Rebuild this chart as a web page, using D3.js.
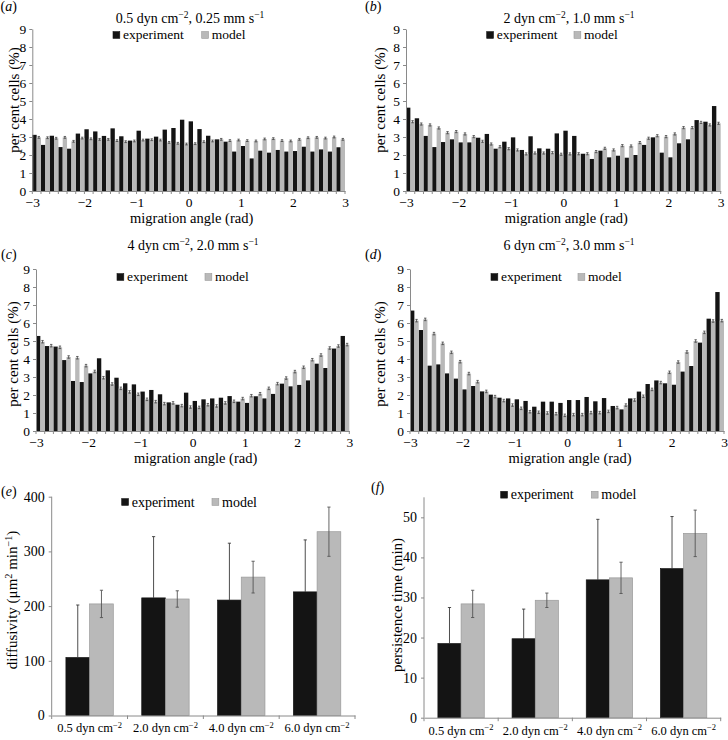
<!DOCTYPE html>
<html><head><meta charset="utf-8">
<script src="https://cdn.jsdelivr.net/npm/d3@7"></script>
<style>
body{margin:0;background:#fff;}
svg text{font-family:"Liberation Serif","Times New Roman",serif;fill:#000;}
</style></head><body>
<svg id="chart" width="728" height="740"></svg>
<script>
// ---------- DATA ----------
const angleTicks = [-3, -2, -1, 0, 1, 2, 3];
const pctTicks = [0, 1, 2, 3, 4, 5, 6, 7, 8, 9];
const seriesNames = ["experiment", "model"];

// (a) 0.5 dyn cm-2
const expA = [3.12, 2.56, 3.07, 2.44, 2.35, 3.19, 3.43, 3.31, 3.06, 3.48, 3.04, 2.8, 3.35, 2.91, 3.02, 3.41, 3.5, 3.96,
              3.87, 3.44, 3.07, 2.87, 2.74, 2.19, 2.5, 1.81, 2.24, 2.13, 2.28, 2.19, 2.22, 2.46, 2.19, 2.31, 2.19, 2.43];
const modelA = [2.98, 2.96, 2.93, 2.98, 2.76, 2.94, 2.9, 2.87, 2.87, 2.8, 2.74, 2.78, 2.83, 2.85, 2.83, 2.7, 2.65, 2.61,
                2.63, 2.74, 2.78, 2.87, 2.8, 2.83, 2.8, 2.78, 2.89, 2.91, 2.8, 2.78, 2.87, 2.96, 2.98, 2.94, 3.0, 2.87];
// (b) 2 dyn cm-2
const expB = [4.63, 4.04, 3.06, 2.44, 2.72, 2.87, 2.7, 2.7, 2.96, 3.17, 2.35, 2.74, 2.98, 2.28, 3.04, 2.37, 2.35, 3.2,
              3.35, 3.06, 2.07, 1.78, 2.24, 1.87, 1.96, 1.85, 2.0, 2.56, 2.98, 2.13, 1.87, 2.65, 2.87, 3.94, 3.85, 4.72];
const modelB = [3.85, 3.72, 3.67, 3.5, 3.24, 3.3, 3.17, 3.02, 2.76, 2.61, 2.46, 2.35, 2.28, 2.06, 2.11, 2.11, 2.13, 2.04,
                2.06, 2.07, 2.07, 2.19, 2.37, 2.28, 2.52, 2.5, 2.69, 2.93, 3.07, 3.02, 3.17, 3.52, 3.52, 3.81, 3.67, 3.76];
// (c) 4 dyn cm-2
const expC = [5.28, 4.72, 4.69, 3.94, 2.78, 2.72, 3.2, 4.04, 3.37, 2.96, 2.65, 2.59, 2.19, 2.28, 2.04, 1.59, 1.46, 2.13,
              1.67, 1.76, 1.81, 1.85, 1.94, 1.63, 1.56, 1.93, 1.81, 2.06, 2.63, 2.48, 2.56, 2.81, 3.74, 3.5, 4.58, 5.28];
const modelC = [4.96, 4.74, 4.65, 4.11, 4.07, 3.63, 3.31, 2.96, 2.61, 2.37, 2.17, 2.04, 1.76, 1.63, 1.52, 1.56, 1.41, 1.33,
                1.31, 1.46, 1.39, 1.56, 1.65, 1.8, 1.96, 2.07, 2.37, 2.63, 2.94, 3.3, 3.54, 3.96, 4.22, 4.61, 4.72, 4.8];
// (d) 6 dyn cm-2
const expD = [6.69, 5.61, 3.63, 3.7, 3.2, 2.91, 2.31, 2.5, 2.2, 2.02, 1.85, 1.81, 1.76, 1.67, 1.35, 1.63, 1.63, 1.56,
              1.72, 1.72, 1.89, 1.65, 1.83, 1.39, 1.2, 1.81, 2.19, 2.61, 2.81, 2.65, 2.57, 3.3, 3.61, 4.91, 6.24, 7.72];
const modelD = [6.13, 6.2, 5.41, 4.87, 4.37, 3.85, 3.19, 2.74, 2.2, 1.91, 1.69, 1.44, 1.26, 1.07, 1.04, 1.0, 0.96, 0.87,
                0.91, 0.91, 1.02, 1.02, 1.09, 1.3, 1.44, 1.72, 1.93, 2.31, 2.69, 3.26, 3.83, 4.39, 5.0, 5.48, 6.11, 6.13];
const histModelErr = [0.05, 0.06, 0.07, 0.07];

// (e), (f)
const shearCats = ["0.5 dyn cm", "2.0 dyn cm", "4.0 dyn cm", "6.0 dyn cm"];
const diffTicks = [0, 100, 200, 300, 400];
const diffExp = [106, 215, 211, 226];
const diffExpErr = [96, 112, 104, 95];
const diffModel = [204, 213, 253, 336];
const diffModelErr = [25, 15, 29, 45];
const persTicks = [0, 10, 20, 30, 40, 50];
const persExp = [18.5, 19.7, 34.4, 37.2];
const persExpErr = [9.0, 7.4, 15.1, 13.0];
const persModel = [28.4, 29.3, 34.9, 46.0];
const persModelErr = [3.4, 1.8, 3.9, 5.8];

// ---------- STYLE ----------
const BLACK = "#141414", GREY = "#b9b9b9", AXIS = "#8a8a8a", ERR = "#444";
const svg = d3.select("#chart");

function rich(sel, parts, size) {
  let up = false;
  parts.forEach(p => {
    if (typeof p === "string") {
      const t = sel.append("tspan").text(p);
      if (up) { t.attr("dy", size * 0.38); up = false; }
    } else {
      sel.append("tspan").attr("font-size", size * 0.68).attr("dy", -size * 0.38).text(p.sup);
      up = true;
    }
  });
  return sel;
}
function panelLabel(x, y, letter) {
  const t = svg.append("text").attr("x", x).attr("y", y).attr("font-size", 14);
  t.append("tspan").text("(");
  t.append("tspan").attr("font-style", "italic").text(letter);
  t.append("tspan").text(")");
}
function styleAxis(g, size) {
  g.attr("font-size", size).attr("font-family", null);
  g.select(".domain").attr("stroke", AXIS);
  g.selectAll(".tick line").attr("stroke", AXIS);
  g.selectAll(".tick text").attr("fill", "#000");
}
function legend(y, bx, gx, size, sq) {
  [[bx, BLACK, seriesNames[0]], [gx, GREY, seriesNames[1]]].forEach(([x, c, name]) => {
    svg.append("rect").attr("x", x).attr("y", y - sq / 2).attr("width", sq).attr("height", sq)
      .attr("fill", c).attr("stroke", c === GREY ? "#999" : c).attr("stroke-width", 0.6);
    svg.append("text").attr("x", x + 10).attr("y", y + size * 0.33).attr("font-size", size).text(name);
  });
}

function hist(o) {
  const x = d3.scaleLinear().domain([-3, 3]).range([o.x0, o.x1]);
  const y = d3.scaleLinear().domain([0, 9]).range([o.yb, o.yt]);
  const bins = d3.scaleBand().domain(d3.range(o.exp.length)).range([o.x0, o.x1]);
  const sub = d3.scaleBand().domain(seriesNames).range([0, bins.bandwidth()]);
  const g = svg.append("g");
  g.selectAll("rect.e").data(o.exp).join("rect").attr("class", "e")
    .attr("x", (d, i) => bins(i) + sub("experiment")).attr("width", sub.bandwidth())
    .attr("y", d => y(d)).attr("height", d => y(0) - y(d)).attr("fill", BLACK);
  g.selectAll("rect.m").data(o.model).join("rect").attr("class", "m")
    .attr("x", (d, i) => bins(i) + sub("model")).attr("width", sub.bandwidth())
    .attr("y", d => y(d)).attr("height", d => y(0) - y(d)).attr("fill", GREY);
  const cx = i => bins(i) + sub("model") + sub.bandwidth() / 2;
  const eg = g.append("g").attr("stroke", ERR).attr("stroke-width", 0.8);
  o.model.forEach((v, i) => {
    eg.append("line").attr("x1", cx(i)).attr("x2", cx(i)).attr("y1", y(v - o.err)).attr("y2", y(v + o.err));
    [v - o.err, v + o.err].forEach(w => eg.append("line").attr("x1", cx(i) - 1.2).attr("x2", cx(i) + 1.2).attr("y1", y(w)).attr("y2", y(w)));
  });
  // axes
  const ya = svg.append("g").attr("transform", `translate(${o.x0},0)`)
    .call(d3.axisLeft(y).tickValues(pctTicks).tickSize(3).tickSizeOuter(0).tickPadding(3).tickFormat(d3.format("d")));
  styleAxis(ya, 13.5);
  const xm = svg.append("g").attr("transform", `translate(0,${o.yb})`)
    .call(d3.axisBottom(bins.copy().range([o.x0, o.x1])).tickValues([]).tickSizeOuter(0));
  xm.select(".domain").attr("stroke", AXIS);
  // minor ticks at bin edges
  const edges = bins.domain().map(i => bins(i)).concat([o.x1]);
  xm.selectAll("line.mt").data(edges).join("line").attr("class", "mt")
    .attr("x1", d => d).attr("x2", d => d).attr("y1", 0).attr("y2", 3).attr("stroke", AXIS);
  const xl = svg.append("g").attr("transform", `translate(0,${o.yb})`)
    .call(d3.axisBottom(x).tickValues(angleTicks).tickSize(0).tickPadding(6.5).tickFormat(d3.format("d")));
  styleAxis(xl, 13.5);
  xl.select(".domain").remove();
  // titles
  svg.append("text").attr("x", (o.x0 + o.x1) / 2 + 3).attr("y", o.yb + 32).attr("text-anchor", "middle")
    .attr("font-size", 14.5).text("migration angle (rad)");
  svg.append("text").attr("transform", `translate(${o.ylx},${o.yly}) rotate(-90)`).attr("text-anchor", "middle")
    .attr("dy", "0.33em").attr("font-size", 15).text("per cent cells (%)");
  rich(svg.append("text").attr("x", o.tx).attr("y", o.ty).attr("text-anchor", "middle").attr("font-size", 14), o.title, 14);
  legend(o.ly, o.lbx, o.lgx, 13.5, 6.8);
  panelLabel(o.px, o.py, o.letter);
}

hist({exp: expA, model: modelA, err: histModelErr[0], x0: 32.3, x1: 345, yt: 29, yb: 191,
  title: ["0.5 dyn cm", {sup: "−2"}, ", 0.25 mm s", {sup: "−1"}], tx: 190, ty: 23,
  ly: 35, lbx: 113, lgx: 201.7, ylx: 14.5, yly: 100, px: 0.5, py: 11, letter: "a"});
hist({exp: expB, model: modelB, err: histModelErr[1], x0: 406, x1: 720.7, yt: 29, yb: 191,
  title: ["2 dyn cm", {sup: "−2"}, ", 1.0 mm s", {sup: "−1"}], tx: 569, ty: 23,
  ly: 35, lbx: 486.7, lgx: 574, ylx: 380, yly: 100, px: 365, py: 11, letter: "b"});
hist({exp: expC, model: modelC, err: histModelErr[2], x0: 36, x1: 349.3, yt: 269, yb: 431,
  title: ["4 dyn cm", {sup: "−2"}, ", 2.0 mm s", {sup: "−1"}], tx: 193, ty: 250,
  ly: 277, lbx: 117, lgx: 205, ylx: 13, yly: 354, px: 1, py: 259, letter: "c"});
hist({exp: expD, model: modelD, err: histModelErr[3], x0: 410, x1: 724, yt: 269, yb: 431,
  title: ["6 dyn cm", {sup: "−2"}, ", 3.0 mm s", {sup: "−1"}], tx: 569, ty: 250,
  ly: 277, lbx: 491, lgx: 578, ylx: 380, yly: 354, px: 365, py: 259, letter: "d"});

function barPanel(o) {
  const x = d3.scaleBand().domain(shearCats).range([o.x0, o.x1]);
  const sub = d3.scaleBand().domain(seriesNames).range([0, x.bandwidth()]).paddingOuter(0.6);
  const y = d3.scaleLinear().domain([0, o.ymax]).range([o.yb, o.yt]);
  const g = svg.append("g");
  const series = [["experiment", o.exp, o.expErr, BLACK], ["model", o.model, o.modelErr, GREY]];
  series.forEach(([name, vals, errs, col]) => {
    g.selectAll(null).data(vals).join("rect")
      .attr("x", (d, i) => x(shearCats[i]) + sub(name)).attr("width", sub.bandwidth())
      .attr("y", d => y(d)).attr("height", d => y(0) - y(d))
      .attr("fill", col).attr("stroke", col === GREY ? "#9a9a9a" : col).attr("stroke-width", 0.7);
  });
  series.forEach(([name, vals, errs]) => {
    const isExp = name === "experiment";
    const eg = g.append("g").attr("stroke", isExp ? "#3a3a3a" : "#555").attr("stroke-width", 0.9);
    vals.forEach((v, i) => {
      const c = x(shearCats[i]) + sub(name) + sub.bandwidth() / 2;
      // experiment lower whisker is hidden behind the black bar
      const lo = isExp ? v : v - errs[i];
      eg.append("line").attr("x1", c).attr("x2", c).attr("y1", y(lo)).attr("y2", y(v + errs[i]));
      const caps = isExp ? [v + errs[i]] : [v - errs[i], v + errs[i]];
      caps.forEach(w => eg.append("line").attr("x1", c - 1.6).attr("x2", c + 1.6).attr("y1", y(w)).attr("y2", y(w)));
    });
  });
  const ya = svg.append("g").attr("transform", `translate(${o.x0},0)`)
    .call(d3.axisLeft(y).tickValues(o.ticks).tickSize(3).tickSizeOuter(0).tickPadding(4).tickFormat(d3.format("d")));
  styleAxis(ya, 14);
  ya.select(".domain").attr("d", `M-0,${y(0)}V${o.yt}`);
  const xa = svg.append("g").attr("transform", `translate(0,${o.yb})`)
    .call(d3.axisBottom(x).tickSize(0).tickSizeOuter(0).tickPadding(8));
  styleAxis(xa, 12.5);
  xa.selectAll(".tick text").text(null).each(function (d) {
    rich(d3.select(this), [d, {sup: "−2"}], 12.5);
  });
  const edges = shearCats.map(c => x(c)).concat([o.x1]);
  xa.selectAll("line.bt").data(edges).join("line").attr("class", "bt")
    .attr("x1", d => d).attr("x2", d => d).attr("y1", 0).attr("y2", 3.5).attr("stroke", AXIS);
  rich(svg.append("text").attr("transform", `translate(${o.ylx},${o.yly}) rotate(-90)`).attr("text-anchor", "middle")
    .attr("dy", "0.33em").attr("font-size", 15), o.ylabel, 15);
  legend(o.ly, o.lbx, o.lgx, 14, 6.8);
  panelLabel(o.px, o.py, o.letter);
}

barPanel({exp: diffExp, expErr: diffExpErr, model: diffModel, modelErr: diffModelErr,
  x0: 51.7, x1: 355, yt: 496.7, yb: 715.5, ymax: 400, ticks: diffTicks,
  ylabel: ["diffusivity (μm", {sup: "2"}, " min", {sup: "−1"}, ")"], ylx: 12.5, yly: 600,
  ly: 502, lbx: 121.7, lgx: 212, px: 1, py: 496, letter: "e"});
barPanel({exp: persExp, expErr: persExpErr, model: persModel, modelErr: persModelErr,
  x0: 424, x1: 720.7, yt: 497.3, yb: 717.7, ymax: 55, ticks: persTicks,
  ylabel: ["persistence time (min)"], ylx: 397.5, yly: 605,
  ly: 494.7, lbx: 500.7, lgx: 591.3, px: 371, py: 492, letter: "f"});
</script>
</body></html>
